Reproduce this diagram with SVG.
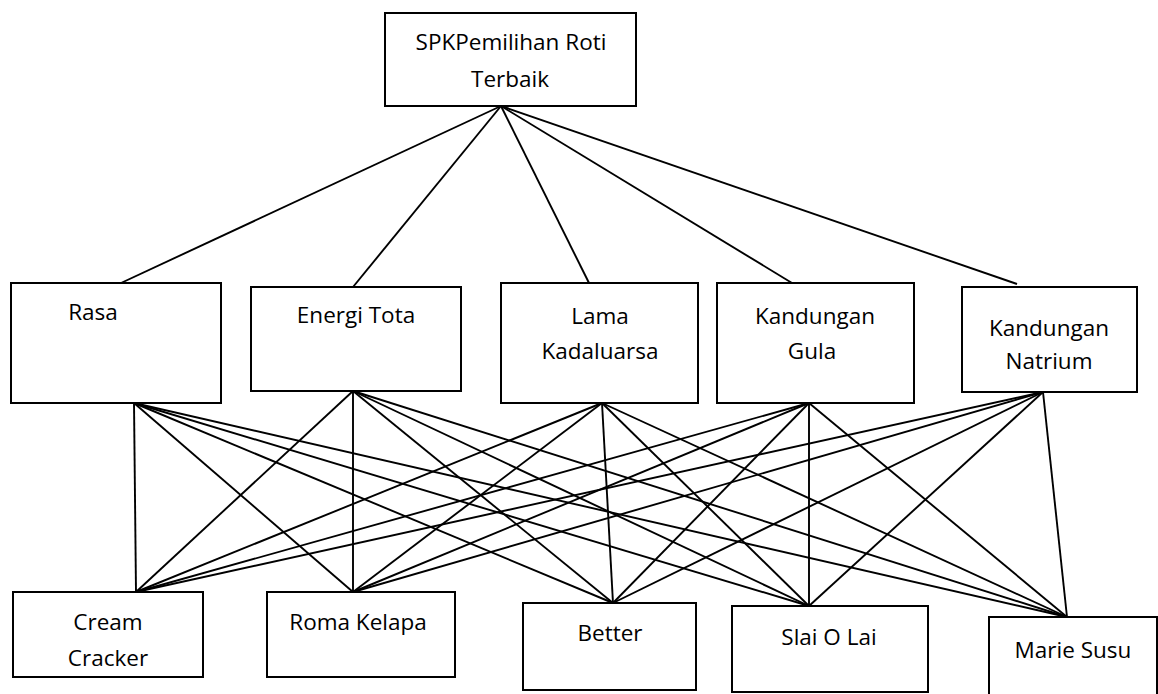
<svg xmlns="http://www.w3.org/2000/svg" width="1158" height="694" viewBox="0 0 1158 694">
<style>
.box{fill:#fff;stroke:#000;stroke-width:2}
.lbl{font-family:"Open Sans","Liberation Sans",sans-serif;font-size:22.5px;fill:#000;text-anchor:middle}
.ln{stroke:#000;stroke-width:1.9;fill:none}
</style>
<rect width="1158" height="694" fill="#fff"/>
<g id="connectors">
<line class="ln" x1="501" y1="106" x2="121" y2="283"/>
<line class="ln" x1="501" y1="106" x2="353" y2="287"/>
<line class="ln" x1="501" y1="106" x2="589" y2="283"/>
<line class="ln" x1="501" y1="106" x2="792" y2="283"/>
<line class="ln" x1="501" y1="106" x2="1017" y2="284"/>
<line class="ln" x1="134" y1="403" x2="136" y2="592"/>
<line class="ln" x1="134" y1="403" x2="353" y2="592"/>
<line class="ln" x1="134" y1="403" x2="613" y2="603"/>
<line class="ln" x1="134" y1="403" x2="809" y2="606"/>
<line class="ln" x1="134" y1="403" x2="1067" y2="617"/>
<line class="ln" x1="353" y1="391" x2="136" y2="592"/>
<line class="ln" x1="353" y1="391" x2="353" y2="592"/>
<line class="ln" x1="353" y1="391" x2="613" y2="603"/>
<line class="ln" x1="353" y1="391" x2="809" y2="606"/>
<line class="ln" x1="353" y1="391" x2="1067" y2="617"/>
<line class="ln" x1="602" y1="403" x2="136" y2="592"/>
<line class="ln" x1="602" y1="403" x2="353" y2="592"/>
<line class="ln" x1="602" y1="403" x2="613" y2="603"/>
<line class="ln" x1="602" y1="403" x2="809" y2="606"/>
<line class="ln" x1="602" y1="403" x2="1067" y2="617"/>
<line class="ln" x1="809" y1="403" x2="136" y2="592"/>
<line class="ln" x1="809" y1="403" x2="353" y2="592"/>
<line class="ln" x1="809" y1="403" x2="613" y2="603"/>
<line class="ln" x1="809" y1="403" x2="809" y2="606"/>
<line class="ln" x1="809" y1="403" x2="1067" y2="617"/>
<line class="ln" x1="1043" y1="392" x2="136" y2="592"/>
<line class="ln" x1="1043" y1="392" x2="353" y2="592"/>
<line class="ln" x1="1043" y1="392" x2="613" y2="603"/>
<line class="ln" x1="1043" y1="392" x2="809" y2="606"/>
<line class="ln" x1="1043" y1="392" x2="1067" y2="617"/>
</g>
<g id="root">
<rect class="box" x="385" y="13" width="251" height="93"/>
<text class="lbl" x="511" y="50">SPKPemilihan Roti</text>
<text class="lbl" x="510" y="87">Terbaik</text>
</g>
<g id="rasa">
<rect class="box" x="11" y="283" width="210" height="120"/>
<text class="lbl" x="93" y="320">Rasa</text>
</g>
<g id="energi">
<rect class="box" x="251" y="287" width="210" height="104"/>
<text class="lbl" x="356" y="323">Energi Tota</text>
</g>
<g id="lama">
<rect class="box" x="501" y="283" width="197" height="120"/>
<text class="lbl" x="600" y="324">Lama</text>
<text class="lbl" x="600" y="359">Kadaluarsa</text>
</g>
<g id="gula">
<rect class="box" x="717" y="283" width="197" height="120"/>
<text class="lbl" x="815" y="324">Kandungan</text>
<text class="lbl" x="812" y="359">Gula</text>
</g>
<g id="natrium">
<rect class="box" x="962" y="287" width="175" height="105"/>
<text class="lbl" x="1049" y="336">Kandungan</text>
<text class="lbl" x="1049" y="369">Natrium</text>
</g>
<g id="cream">
<rect class="box" x="13" y="592" width="190" height="85"/>
<text class="lbl" x="108" y="630">Cream</text>
<text class="lbl" x="108" y="666">Cracker</text>
</g>
<g id="roma">
<rect class="box" x="267" y="592" width="188" height="85"/>
<text class="lbl" x="358" y="630">Roma Kelapa</text>
</g>
<g id="better">
<rect class="box" x="523" y="603" width="173" height="87"/>
<text class="lbl" x="610" y="641">Better</text>
</g>
<g id="slai">
<rect class="box" x="732" y="606" width="196" height="86"/>
<text class="lbl" x="829" y="645">Slai O Lai</text>
</g>
<g id="marie">
<rect class="box" x="989" y="617" width="168" height="90"/>
<text class="lbl" x="1073" y="658">Marie Susu</text>
</g>
</svg>
